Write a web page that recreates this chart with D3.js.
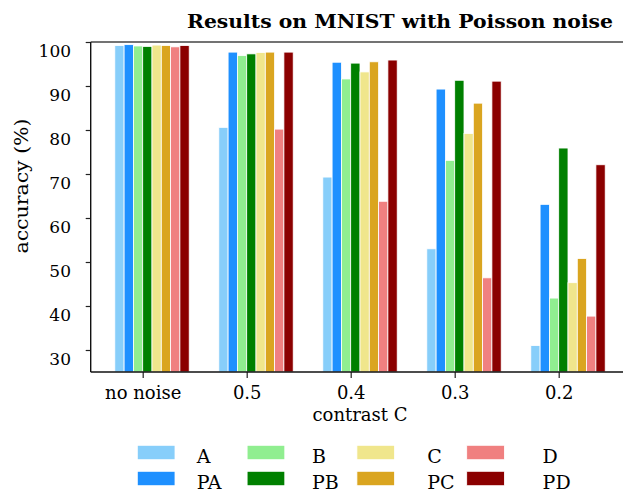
<!DOCTYPE html>
<html>
<head>
<meta charset="utf-8">
<script src="https://cdn.jsdelivr.net/npm/d3@7"></script>
<style>
    body { margin: 0; background: #fff; }
    text { font-family: "DejaVu Serif", serif; fill: #000; }
</style>
</head>
<body>
<script>
// data
var groups = ["no noise", "0.5", "0.4", "0.3", "0.2"];
var seriesNames = ["A", "PA", "B", "PB", "C", "PC", "D", "PD"];
var seriesColours = ["#87CEFA", "#1E90FF", "#90EE90", "#008000", "#F0E68C", "#DAA520", "#F08080", "#8B0000"];

var valA  = [99.2, 80.6, 69.3, 53.0, 31.0];
var valPA = [99.4, 97.7, 95.4, 89.3, 63.1];
var valB  = [99.1, 96.9, 91.6, 73.1, 41.8];
var valPB = [99.0, 97.3, 95.2, 91.3, 75.9];
var valC  = [99.3, 97.6, 93.2, 79.2, 45.3];
var valPC = [99.2, 97.7, 95.5, 86.1, 50.8];
var valD  = [98.9, 80.2, 63.8, 46.4, 37.7];
var valPD = [99.2, 97.7, 95.9, 91.1, 72.1];

var yTicks = [30, 40, 50, 60, 70, 80, 90, 100];

var seriesValues = [valA, valPA, valB, valPB, valC, valPC, valD, valPD];

// dimensions
var width = 623;
var height = 492;

var plot = {
    left: 90.7,
    right: 640,
    top: 42,
    bottom: 372,
}

var svg = d3.select("body")
    .append("svg")
    .attr("width", width)
    .attr("height", height);

// scales
var x = d3.scalePoint()
    .domain(groups)
    .range([142.7, 558.7]);

var y = d3.scaleLinear()
    .domain([25, 100])
    .range([plot.bottom, plot.top]);

var barWidth = 9.3;

// bars, one per series per group
var bars = [];
seriesValues.forEach(function(vals, i) {
    vals.forEach(function(v, j) {
        bars.push({ series: i, group: groups[j], value: v });
    });
});

svg.append("g")
    .selectAll("rect")
    .data(bars)
    .enter()
    .append("rect")
    .attr("x", function(d) { return x(d.group) + (d.series - 3) * barWidth; })
    .attr("y", function(d) { return y(d.value); })
    .attr("width", barWidth)
    .attr("height", function(d) { return y(25) - y(d.value); })
    .attr("fill", function(d) { return seriesColours[d.series]; })
    .attr("stroke", "#fff")
    .attr("stroke-width", 0.8);

// axes
var yAxis = svg.append("g")
    .attr("transform", "translate(" + plot.left + ",0)")
    .call(d3.axisLeft(y).tickValues(yTicks).tickSize(5));

var xAxis = svg.append("g")
    .attr("transform", "translate(0," + plot.bottom + ")")
    .call(d3.axisBottom(x).tickSize(6));

[yAxis, xAxis].forEach(function(a) {
    a.select(".domain").remove();
    a.selectAll("line").attr("stroke", "#222").attr("stroke-width", 1.2);
    a.selectAll("text").attr("fill", "#000").attr("dy", null);
});

// tick labels sit a bit below their ticks in the original
yAxis.selectAll("text").style("font-size", "17px").attr("x", -19.7).attr("y", 14);
xAxis.selectAll("text").style("font-size", "18px").attr("y", 27);

// spines
svg.append("line")
    .attr("x1", plot.left).attr("x2", plot.right)
    .attr("y1", plot.top).attr("y2", plot.top)
    .attr("stroke", "#444").attr("stroke-width", 1.6);

svg.append("line")
    .attr("x1", plot.left).attr("x2", plot.right)
    .attr("y1", plot.bottom).attr("y2", plot.bottom)
    .attr("stroke", "#111").attr("stroke-width", 1.4);

svg.append("line")
    .attr("x1", plot.left).attr("x2", plot.left)
    .attr("y1", plot.top).attr("y2", plot.bottom)
    .attr("stroke", "#111").attr("stroke-width", 1.4);

// title and axis labels
svg.append("text")
    .attr("x", 187)
    .attr("y", 28)
    .attr("textLength", 426)
    .attr("lengthAdjust", "spacingAndGlyphs")
    .style("font-size", "18px")
    .style("font-weight", "bold")
    .text("Results on MNIST with Poisson noise");

svg.append("text")
    .attr("transform", "translate(28,186) rotate(-90)")
    .attr("text-anchor", "middle")
    .attr("textLength", 135)
    .attr("lengthAdjust", "spacingAndGlyphs")
    .style("font-size", "19px")
    .text("accuracy (%)");

svg.append("text")
    .attr("x", 360)
    .attr("y", 421)
    .attr("text-anchor", "middle")
    .style("font-size", "18px")
    .text("contrast C");

// legend: 4 columns, 2 rows
var legend = svg.append("g")
    .selectAll("g")
    .data(seriesNames)
    .enter()
    .append("g");

legend.append("rect")
    .attr("x", function(d, i) { return 137.3 + Math.floor(i / 2) * 109.8; })
    .attr("y", function(d, i) { return 445.3 + (i % 2) * 26; })
    .attr("width", 37.7)
    .attr("height", 14.4)
    .attr("fill", function(d, i) { return seriesColours[i]; })
    .attr("stroke", "#fff")
    .attr("stroke-width", 0.8);

legend.append("text")
    .attr("x", function(d, i) { return 196.7 + Math.floor(i / 2) * 115.3; })
    .attr("y", function(d, i) { return 463 + (i % 2) * 26; })
    .style("font-size", "19px")
    .text(function(d) { return d; });
</script>
</body>
</html>
